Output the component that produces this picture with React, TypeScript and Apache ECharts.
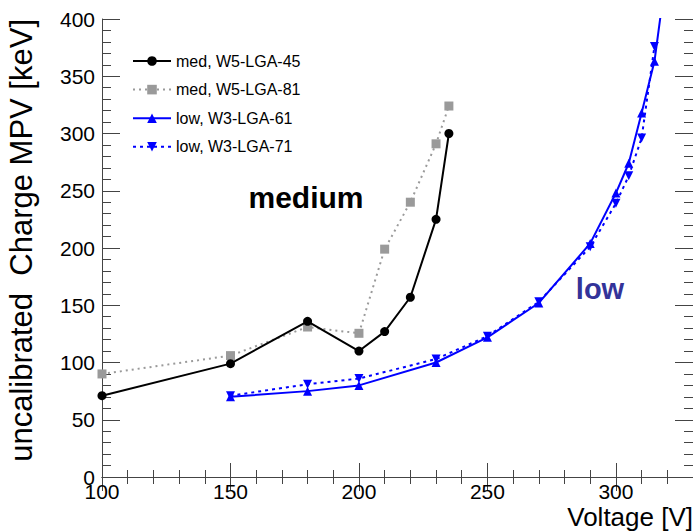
import React, { useEffect, useRef } from "react";
import * as echarts from "echarts";

const voltMed = [100, 150, 180, 200, 210, 220, 230, 235];
const medW5_45 = [71, 99, 136, 110, 127, 157, 225, 300];
const medW5_81 = [90, 106, 131, 125.5, 199, 240, 291, 324];
const voltLow61 = [150, 180, 200, 230, 250, 270, 290, 300, 305, 310, 315, 320];
const lowW3_61 = [70, 75, 80, 100, 122, 152, 204, 248, 274, 318, 363, 447];
const voltLow71 = [150, 180, 200, 230, 250, 270, 290, 300, 305, 310, 315];
const lowW3_71 = [71, 81, 86, 103, 123, 153, 201, 239, 263, 296, 376];

const seriesNames = ["med, W5-LGA-45", "med, W5-LGA-81", "low, W3-LGA-61", "low, W3-LGA-71"];

const FONT = "Liberation Sans";

function pairs(xs: number[], ys: number[]) {
  return xs.map((x, i) => [x, ys[i]]);
}

export default function App() {
  const ref = useRef<HTMLDivElement>(null);
  useEffect(() => {
    if (!ref.current) return;
    const chart = echarts.init(ref.current, null, { renderer: "svg" });
    const axisColor = "#444";
    const xBase = {
      type: "value" as const,
      min: 100,
      max: 330,
      interval: 50,
      axisLine: { show: true, lineStyle: { color: axisColor, width: 1 } },
      axisTick: { show: true, inside: true, length: 14, lineStyle: { color: axisColor } },
      minorTick: { show: true, splitNumber: 5, length: 7, lineStyle: { color: axisColor } },
      splitLine: { show: false },
      minorSplitLine: { show: false },
    };
    const yBase = {
      type: "value" as const,
      min: 0,
      max: 400,
      interval: 50,
      axisLine: { show: true, lineStyle: { color: axisColor, width: 1 } },
      axisTick: { show: true, inside: true, length: 18, lineStyle: { color: axisColor } },
      minorTick: { show: true, splitNumber: 5, length: 9, lineStyle: { color: axisColor } },
      splitLine: { show: false },
      minorSplitLine: { show: false },
    };
    const legendText = { fontSize: 16, color: "#000", fontFamily: FONT };
    chart.setOption({
      animation: false,
      backgroundColor: "#fff",
      grid: { left: 102, top: 19, right: -4, bottom: 54, containLabel: false },
      legend: {
        left: 127,
        top: 48,
        orient: "vertical",
        itemWidth: 38,
        itemHeight: 12,
        itemGap: 12.6,
        textStyle: legendText,
        data: seriesNames.map((n) => ({ name: n, textStyle: legendText })),
      },
      xAxis: [
        {
          ...xBase,
          position: "bottom",
          axisLabel: {
            show: true,
            fontSize: 21,
            color: "#000",
            fontFamily: FONT,
            margin: 4,
            showMaxLabel: false,
          },
        },
        { ...xBase, position: "top", axisLabel: { show: false } },
      ],
      yAxis: [
        {
          ...yBase,
          position: "left",
          axisLabel: { show: true, fontSize: 21, color: "#000", fontFamily: FONT, margin: 7 },
        },
        { ...yBase, position: "right", axisLabel: { show: false } },
      ],
      graphic: [
        {
          type: "text",
          x: 693,
          y: 517,
          style: {
            text: "Voltage [V]",
            fontSize: 26,
            fontFamily: FONT,
            fill: "#000",
            align: "right",
            verticalAlign: "middle",
          },
        },
        {
          type: "text",
          x: 21,
          y: 19,
          rotation: Math.PI / 2,
          style: {
            text: "uncalibrated  Charge MPV [keV]",
            fontSize: 31,
            fontFamily: FONT,
            fill: "#000",
            align: "right",
            verticalAlign: "middle",
          },
        },
        {
          type: "text",
          x: 306,
          y: 197,
          style: {
            text: "medium",
            fontSize: 30,
            fontWeight: "bold",
            fontFamily: FONT,
            fill: "#000",
            align: "center",
            verticalAlign: "middle",
          },
        },
        {
          type: "text",
          x: 600,
          y: 289,
          style: {
            text: "low",
            fontSize: 29,
            fontWeight: "bold",
            fontFamily: FONT,
            fill: "#333399",
            align: "center",
            verticalAlign: "middle",
          },
        },
      ],
      series: [
        {
          name: seriesNames[0],
          type: "line",
          data: pairs(voltMed, medW5_45),
          symbol: "circle",
          symbolSize: 9,
          itemStyle: { color: "#000" },
          lineStyle: { color: "#000", width: 2, type: "solid" },
          z: 4,
        },
        {
          name: seriesNames[1],
          type: "line",
          data: pairs(voltMed, medW5_81),
          symbol: "rect",
          symbolSize: 9,
          itemStyle: { color: "#9a9a9a" },
          lineStyle: { color: "#9a9a9a", width: 2, type: [2, 4] },
          z: 3,
        },
        {
          name: seriesNames[2],
          type: "line",
          data: pairs(voltLow61, lowW3_61),
          symbol: "triangle",
          symbolSize: 9,
          itemStyle: { color: "#0000ff" },
          lineStyle: { color: "#0000ff", width: 2, type: "solid" },
          z: 4,
        },
        {
          name: seriesNames[3],
          type: "line",
          data: pairs(voltLow71, lowW3_71),
          symbol: "triangle",
          symbolRotate: 180,
          symbolSize: 9,
          itemStyle: { color: "#0000ff" },
          lineStyle: { color: "#0000ff", width: 2, type: [3, 4] },
          z: 3,
        },
      ],
    });
    return () => chart.dispose();
  }, []);
  return (
    <div
      ref={ref}
      style={{ position: "absolute", left: 0, top: 0, width: 693, height: 531, background: "#fff" }}
    />
  );
}
